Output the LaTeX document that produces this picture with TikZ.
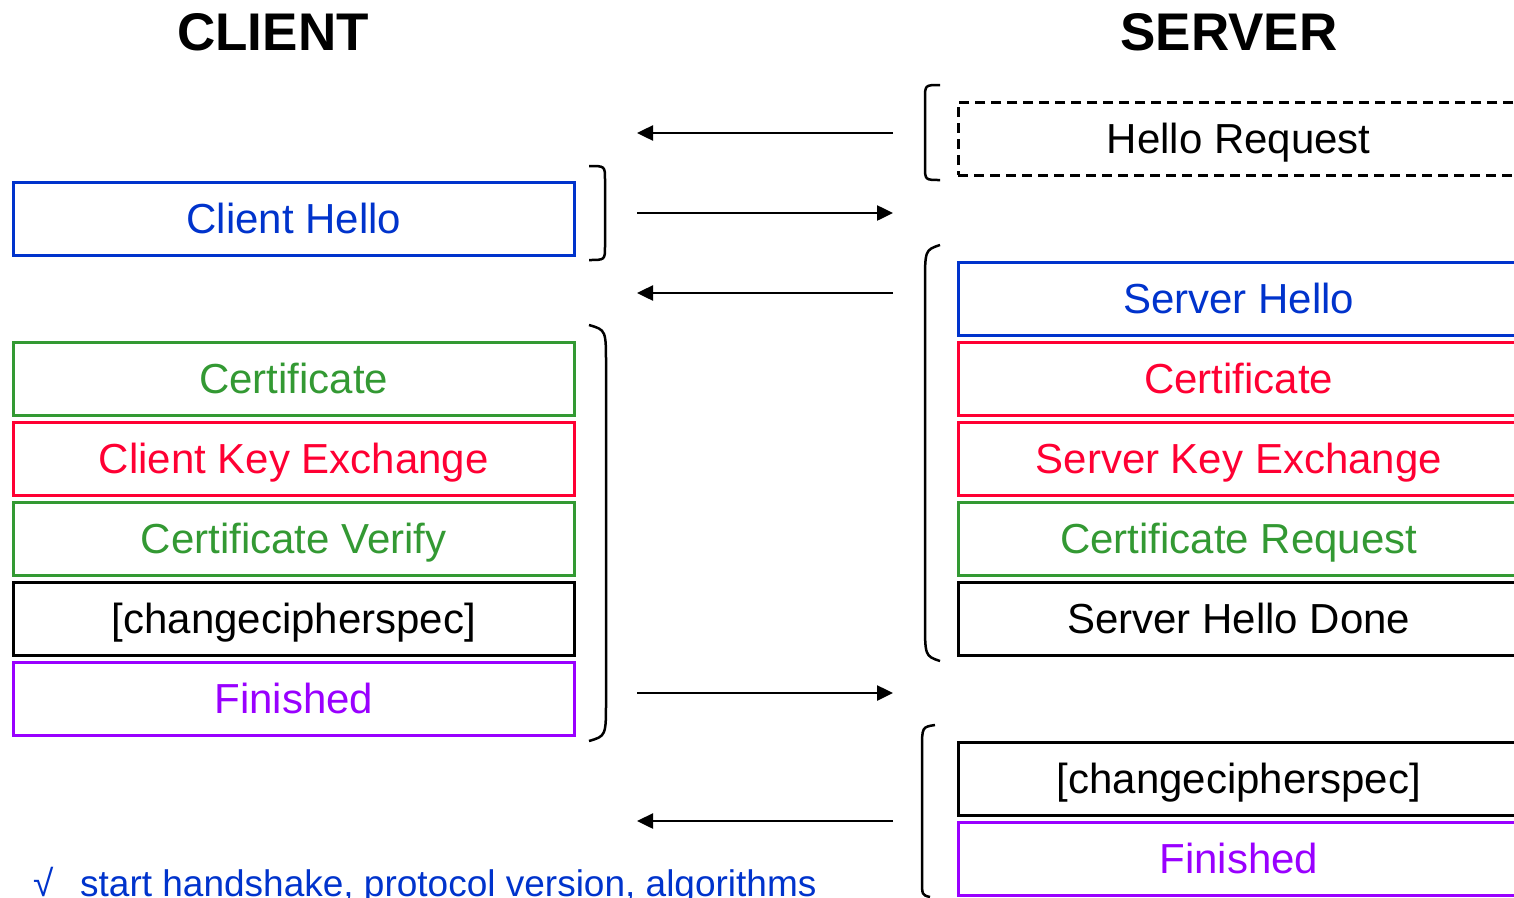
\documentclass[tikz,border=0pt]{standalone}
\usepackage{fontspec}
\setmainfont{Liberation Sans}
\usetikzlibrary{arrows.meta}
\definecolor{cblue}{RGB}{0,51,204}
\definecolor{cgreen}{RGB}{51,153,51}
\definecolor{cred}{RGB}{255,0,51}
\definecolor{cpurple}{RGB}{153,0,255}
\begin{document}
\begin{tikzpicture}[x=1pt,y=-1pt,
  msg/.style={draw, line width=2.5pt, minimum width=561pt, minimum height=73pt,
    inner sep=0pt, font=\fontsize{42}{50}\selectfont, text height=38pt, text depth=8pt,
    anchor=north west},
  title/.style={font=\fontsize{53}{60}\selectfont\bfseries, anchor=base},
  arr/.style={line width=2.5pt, -{Triangle[length=16pt,width=15pt]}},
  brace/.style={line width=2.5pt}]
\useasboundingbox (0,0) rectangle (1514,897);
% titles
\node[title] (tc) at (273,50) {CLIENT};
\node[title] (ts) at (1229,50) {SERVER};
% client boxes
\node[msg, draw=cblue, text=cblue] (ch) at (12,181) {Client Hello};
\node[msg, draw=cgreen, text=cgreen] (ccert) at (12,341) {Certificate};
\node[msg, draw=cred, text=cred] (ckx) at (12,421) {Client Key Exchange};
\node[msg, draw=cgreen, text=cgreen] (ccv) at (12,501) {Certificate Verify};
\node[msg, draw=black, text=black] (cccs) at (12,581) {[changecipherspec]};
\node[msg, draw=cpurple, text=cpurple] (cfin) at (12,661) {Finished};
% server boxes
\node[msg, draw=black, dash pattern=on 10pt off 6pt] (hr) at (957,101) {Hello Request};
\node[msg, draw=cblue, text=cblue] (sh) at (957,261) {Server Hello};
\node[msg, draw=cred, text=cred] (scert) at (957,341) {Certificate};
\node[msg, draw=cred, text=cred] (skx) at (957,421) {Server Key Exchange};
\node[msg, draw=cgreen, text=cgreen] (scr) at (957,501) {Certificate Request};
\node[msg, draw=black] (shd) at (957,581) {Server Hello Done};
\node[msg, draw=black] (sccs) at (957,741) {[changecipherspec]};
\node[msg, draw=cpurple, text=cpurple] (sfin) at (957,821) {Finished};
% arrow end points
\coordinate (l1) at (637,133); \coordinate (r1) at (893,133);
\coordinate (l2) at (637,213); \coordinate (r2) at (893,213);
\coordinate (l3) at (637,293); \coordinate (r3) at (893,293);
\coordinate (l4) at (637,693); \coordinate (r4) at (893,693);
\coordinate (l5) at (637,821); \coordinate (r5) at (893,821);
\draw[arr] (r1) -- (l1);
\draw[arr] (l2) -- (r2);
\draw[arr] (r3) -- (l3);
\draw[arr] (l4) -- (r4);
\draw[arr] (r5) -- (l5);
% client braces
\draw[brace] (589,166) .. controls (605,166) .. (605,180) -- (605,246) .. controls (605,260) .. (589,260);
\draw[brace] (589,325) .. controls (606,330) .. (606,365) -- (606,700) .. controls (606,736) .. (589,741);
% server braces
\draw[brace] (940,85) .. controls (925,85) .. (925,99) -- (925,166) .. controls (925,180) .. (940,180);
\draw[brace] (940,245) .. controls (925,250) .. (925,285) -- (925,620) .. controls (925,656) .. (940,661);
\draw[brace] (935,725) .. controls (922,727) .. (922,750) -- (922,880) .. controls (922,895) .. (930,897);
% note
\node[anchor=base west, text=cblue, font=\fontsize{37}{44}\selectfont, inner sep=0pt] (ck) at (33,896) {√};
\node[anchor=base west, text=cblue, font=\fontsize{37}{44}\selectfont, inner sep=0pt] (note) at (80,896) {start handshake, protocol version, algorithms};
\end{tikzpicture}
\end{document}
